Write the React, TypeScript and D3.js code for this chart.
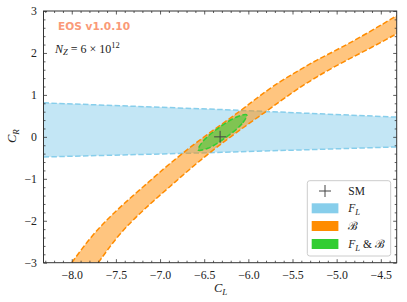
import React, { useRef, useEffect } from "react";
import * as d3 from "d3";

// tick labels
const xTicks = [-8.0, -7.5, -7.0, -6.5, -6.0, -5.5, -5.0, -4.5];
const yTicks = [-3, -2, -1, 0, 1, 2, 3];

// F_L band (C_L, upper C_R, lower C_R)
const flCL = [-8.32, -6.3, -4.32];
const flUpper = [0.81, 0.65, 0.47];
const flLower = [-0.48, -0.37, -0.24];

// B band, outer (upper-left) edge
const brOuterCL = [-8.0, -7.756, -7.49, -7.19, -6.89, -6.51, -6.095, -5.79, -5.49, -5.23, -4.925, -4.62, -4.31];
const brOuterCR = [-3.0, -2.3, -1.74, -1.19, -0.63, 0.0, 0.6, 1.12, 1.51, 1.83, 2.15, 2.51, 2.9];
// B band, inner (lower-right) edge
const brInnerCL = [-7.7, -7.46, -7.19, -6.89, -6.59, -6.21, -5.8, -5.49, -5.23, -4.925, -4.62, -4.31];
const brInnerCR = [-3.0, -2.3, -1.74, -1.19, -0.63, 0.0, 0.6, 1.08, 1.43, 1.79, 2.11, 2.47];

// combined F_L & B region
const combCL = [-6.018, -6.07, -6.253, -6.459, -6.568, -6.516, -6.332, -6.126];
const combCR = [0.523, 0.318, -0.013, -0.273, -0.316, -0.111, 0.22, 0.48];

const smCL = -6.32;
const smCR = 0.0;

const W = 407;
const H = 302;
const serif = "'Liberation Serif', 'DejaVu Serif', serif";

const App = () => {
  const ref = useRef<SVGSVGElement>(null);

  useEffect(() => {
    const svg = d3.select(ref.current);
    svg.selectAll("*").remove();

    const left = 43.5, right = 396.7, top = 11, bottom = 262.7;
    const x = d3.scaleLinear().domain([-8.32, -4.32]).range([left, right]);
    const y = d3.scaleLinear().domain([-3, 3]).range([bottom, top]);

    svg.append("defs").append("clipPath").attr("id", "plotclip")
      .append("rect")
      .attr("x", left).attr("y", top)
      .attr("width", right - left).attr("height", bottom - top);

    const plot = svg.append("g").attr("clip-path", "url(#plotclip)");

    // F_L band
    const flIdx = d3.range(flCL.length);
    plot.append("path")
      .attr("d", d3.area<number>()
        .x((i) => x(flCL[i]))
        .y0((i) => y(flLower[i]))
        .y1((i) => y(flUpper[i]))(flIdx))
      .attr("fill", "#87ceeb")
      .attr("fill-opacity", 0.5);
    [flUpper, flLower].forEach((edge) => {
      plot.append("path")
        .attr("d", d3.line<number>().x((i) => x(flCL[i])).y((i) => y(edge[i]))(flIdx))
        .attr("fill", "none")
        .attr("stroke", "#87ceeb")
        .attr("stroke-width", 1.5)
        .attr("stroke-dasharray", "5.5,2.4");
    });

    // B band
    const edgeLine = d3.line<[number, number]>()
      .x((d) => x(d[0]))
      .y((d) => y(d[1]))
      .curve(d3.curveBasis);
    const outer: [number, number][] = brOuterCL.map((c, i) => [c, brOuterCR[i]]);
    const inner: [number, number][] = brInnerCL.map((c, i) => [c, brInnerCR[i]]);
    const fillPath = edgeLine(outer) + "L" + (edgeLine(inner.slice().reverse()) || "").slice(1) + "Z";
    plot.append("path")
      .attr("d", fillPath)
      .attr("fill", "#ff8c00")
      .attr("fill-opacity", 0.5);
    [outer, inner].forEach((edge) => {
      plot.append("path")
        .attr("d", edgeLine(edge))
        .attr("fill", "none")
        .attr("stroke", "#ff8c00")
        .attr("stroke-width", 1.5)
        .attr("stroke-dasharray", "5.5,2.4");
    });

    // combined region
    const comb: [number, number][] = combCL.map((c, i) => [c, combCR[i]]);
    plot.append("path")
      .attr("d", d3.line<[number, number]>()
        .x((d) => x(d[0]))
        .y((d) => y(d[1]))
        .curve(d3.curveCatmullRomClosed)(comb))
      .attr("fill", "#32cd32")
      .attr("fill-opacity", 0.55)
      .attr("stroke", "#32cd32")
      .attr("stroke-width", 1.5)
      .attr("stroke-dasharray", "5.5,2.4");

    // SM point
    const sx = x(smCL), sy = y(smCR);
    plot.append("path")
      .attr("d", `M${sx - 6},${sy}H${sx + 6}M${sx},${sy - 6}V${sy + 6}`)
      .attr("stroke", "#444")
      .attr("stroke-width", 1);

    // axes, ticks inward on all sides
    const minorX = d3.range(-83, -43).map((v) => v / 10).filter((v) => Math.round(v * 10) % 5 !== 0);
    const minorY = d3.range(-15, 16).map((v) => v / 5).filter((v) => Math.round(v * 5) % 5 !== 0);
    const axisColor = "#333";

    const gb = svg.append("g").attr("transform", `translate(0,${bottom})`)
      .call(d3.axisBottom(x).tickValues(xTicks).tickSize(-3.5).tickSizeOuter(0).tickPadding(8)
        .tickFormat(d3.format(".1f") as any));
    svg.append("g").attr("transform", `translate(0,${bottom})`)
      .call(d3.axisBottom(x).tickValues(minorX).tickSize(-2).tickSizeOuter(0).tickFormat(() => ""));
    svg.append("g").attr("transform", `translate(0,${top})`)
      .call(d3.axisTop(x).tickValues(xTicks).tickSize(-3.5).tickSizeOuter(0).tickFormat(() => ""));
    svg.append("g").attr("transform", `translate(0,${top})`)
      .call(d3.axisTop(x).tickValues(minorX).tickSize(-2).tickSizeOuter(0).tickFormat(() => ""));

    const gl = svg.append("g").attr("transform", `translate(${left},0)`)
      .call(d3.axisLeft(y).tickValues(yTicks).tickSize(-3.5).tickSizeOuter(0).tickPadding(6.5)
        .tickFormat(d3.format("d") as any));
    svg.append("g").attr("transform", `translate(${left},0)`)
      .call(d3.axisLeft(y).tickValues(minorY).tickSize(-2).tickSizeOuter(0).tickFormat(() => ""));
    svg.append("g").attr("transform", `translate(${right},0)`)
      .call(d3.axisRight(y).tickValues(yTicks).tickSize(-3.5).tickSizeOuter(0).tickFormat(() => ""));
    svg.append("g").attr("transform", `translate(${right},0)`)
      .call(d3.axisRight(y).tickValues(minorY).tickSize(-2).tickSizeOuter(0).tickFormat(() => ""));

    svg.selectAll(".domain").remove();
    svg.selectAll(".tick line").attr("stroke", axisColor).attr("stroke-width", 0.8);
    [gb, gl].forEach((g) => {
      g.selectAll("text")
        .attr("font-family", serif)
        .attr("font-size", 11.8)
        .attr("fill", "#222");
    });

    svg.append("rect")
      .attr("x", left).attr("y", top)
      .attr("width", right - left).attr("height", bottom - top)
      .attr("fill", "none")
      .attr("stroke", axisColor)
      .attr("stroke-width", 1);

    // axis labels
    const xl = svg.append("text")
      .attr("x", 214).attr("y", 292)
      .attr("font-family", serif).attr("font-size", 12.5).attr("fill", "#222");
    xl.append("tspan").attr("font-style", "italic").text("C");
    xl.append("tspan").attr("font-style", "italic").attr("font-size", 9).attr("dy", 2.5).text("L");

    const yl = svg.append("text")
      .attr("transform", "translate(16,143) rotate(-90)")
      .attr("font-family", serif).attr("font-size", 12.5).attr("fill", "#222");
    yl.append("tspan").attr("font-style", "italic").text("C");
    yl.append("tspan").attr("font-style", "italic").attr("font-size", 9).attr("dy", 2.5).text("R");

    // annotations
    svg.append("text")
      .attr("x", 58).attr("y", 30)
      .attr("font-family", "'DejaVu Sans', sans-serif")
      .attr("font-weight", "bold")
      .attr("font-size", 10.6)
      .attr("fill", "#fa9a78")
      .text("EOS v1.0.10");

    const nz = svg.append("text")
      .attr("x", 55).attr("y", 52.5)
      .attr("font-family", serif).attr("font-size", 12).attr("fill", "#222");
    nz.append("tspan").attr("font-style", "italic").text("N");
    nz.append("tspan").attr("font-style", "italic").attr("font-size", 8.5).attr("dy", 2.5).text("Z");
    nz.append("tspan").attr("dy", -2.5).text(" = 6 × 10");
    nz.append("tspan").attr("font-size", 8.5).attr("dy", -4.5).text("12");

    // legend
    const lg = svg.append("g");
    lg.append("rect")
      .attr("x", 307.3).attr("y", 180.7)
      .attr("width", 83.4).attr("height", 75.3)
      .attr("rx", 2.5)
      .attr("fill", "white").attr("fill-opacity", 0.8)
      .attr("stroke", "#ccc").attr("stroke-width", 1);

    const rowY = [191, 208.3, 226, 244];
    lg.append("path")
      .attr("d", `M${325 - 6},${rowY[0]}H${325 + 6}M325,${rowY[0] - 6}V${rowY[0] + 6}`)
      .attr("stroke", "#444").attr("stroke-width", 1);
    lg.append("text")
      .attr("x", 348.3).attr("y", rowY[0] + 4)
      .attr("font-family", serif).attr("font-size", 11.5).attr("fill", "#222")
      .text("SM");

    const patchColors = ["#87ceeb", "#ff8c00", "#32cd32"];
    patchColors.forEach((c, i) => {
      lg.append("rect")
        .attr("x", 311.7).attr("y", rowY[i + 1] - 5)
        .attr("width", 26.7).attr("height", 10)
        .attr("fill", c);
    });

    const addFL = (t: any) => {
      t.append("tspan").attr("font-style", "italic").text("F");
      t.append("tspan").attr("font-style", "italic").attr("font-size", 8.5).attr("dy", 2.5).text("L");
    };
    const t1 = lg.append("text").attr("x", 348.3).attr("y", rowY[1] + 4)
      .attr("font-family", serif).attr("font-size", 11.5).attr("fill", "#222");
    addFL(t1);
    lg.append("text").attr("x", 348.3).attr("y", rowY[2] + 4)
      .attr("font-family", serif).attr("font-size", 11.5).attr("fill", "#222")
      .text("ℬ");
    const t3 = lg.append("text").attr("x", 348.3).attr("y", rowY[3] + 4)
      .attr("font-family", serif).attr("font-size", 11.5).attr("fill", "#222");
    addFL(t3);
    t3.append("tspan").attr("dy", -2.5).text(" & ℬ");
  }, []);

  return (
    <svg
      ref={ref}
      width={W}
      height={H}
      style={{ position: "absolute", left: 0, top: 0, background: "#fff" }}
    ></svg>
  );
};

export default App;
